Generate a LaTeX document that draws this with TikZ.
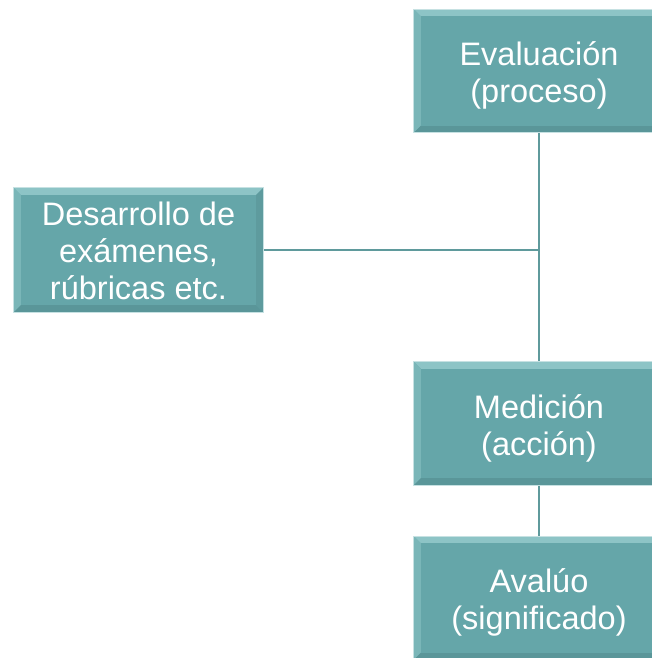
\documentclass[tikz,border=0pt]{standalone}
\usepackage{fontspec}
\setmainfont{Liberation Sans}
\definecolor{boxfill}{HTML}{65A6A9}
\definecolor{bevtop}{HTML}{8DC4C6}
\definecolor{bevleft}{HTML}{7AB6B8}
\definecolor{bevbot}{HTML}{5A9699}
\definecolor{bevright}{HTML}{5E9B9E}
\definecolor{linecol}{HTML}{5F9A9C}
\tikzset{
  tbox/.style={rectangle, fill=boxfill, minimum width=250pt, minimum height=123pt,
    inner sep=0pt, align=center, text=white, font=\fontsize{28}{35}\selectfont},
  tlabel/.style={text=white, align=center, font=\fontsize{32.5}{37}\selectfont},
  conn/.style={draw=linecol, line width=2.5pt}
}
\newcommand{\bevel}[1]{%
  \fill[bevtop] (#1.north west) -- (#1.north east) -- ([xshift=-7pt,yshift=-7pt]#1.north east) -- ([xshift=7pt,yshift=-7pt]#1.north west) -- cycle;
  \fill[bevleft] (#1.north west) -- ([xshift=7pt,yshift=-7pt]#1.north west) -- ([xshift=7pt,yshift=7pt]#1.south west) -- (#1.south west) -- cycle;
  \fill[bevbot] (#1.south west) -- ([xshift=7pt,yshift=7pt]#1.south west) -- ([xshift=-7pt,yshift=7pt]#1.south east) -- (#1.south east) -- cycle;
  \fill[bevright] (#1.north east) -- ([xshift=-7pt,yshift=-7pt]#1.north east) -- ([xshift=-7pt,yshift=7pt]#1.south east) -- (#1.south east) -- cycle;
  \fill[boxfill] ([xshift=7pt,yshift=-7pt]#1.north west) rectangle ([xshift=-7pt,yshift=7pt]#1.south east);
  \draw[bevtop!50!white, line width=0.8pt] (#1.south west) rectangle (#1.north east);
}
\begin{document}
\begin{tikzpicture}[x=1pt,y=-1pt]
\useasboundingbox (0,0) rectangle (652,658);
\begin{scope}
\clip (0,0) rectangle (652,658);
\node[tbox] (eval) at (539,71) {};
\node[tbox, minimum width=249pt, minimum height=124pt] (des) at (138.5,250) {};
\node[tbox] (med) at (539,423.5) {};
\node[tbox] (aval) at (539,598) {};
\coordinate (j) at (539,250);
\draw[conn] (eval.south) -- (med.north);
\draw[conn] (des.east) -- (j);
\draw[conn] (med.south) -- (aval.north);
\bevel{eval}
\bevel{des}
\bevel{med}
\bevel{aval}
\node[tlabel, yshift=-4.5pt] (evalt) at (eval.center) {Evaluación\\(proceso)};
\node[tlabel, yshift=-1pt] (dest) at (des.center) {Desarrollo de\\exámenes,\\rúbricas etc.};
\node[tlabel, yshift=-5pt] (medt) at (med.center) {Medición\\(acción)};
\node[tlabel, yshift=-4.5pt] (avalt) at (aval.center) {Avalúo\\(significado)};
\end{scope}
\end{tikzpicture}
\end{document}
